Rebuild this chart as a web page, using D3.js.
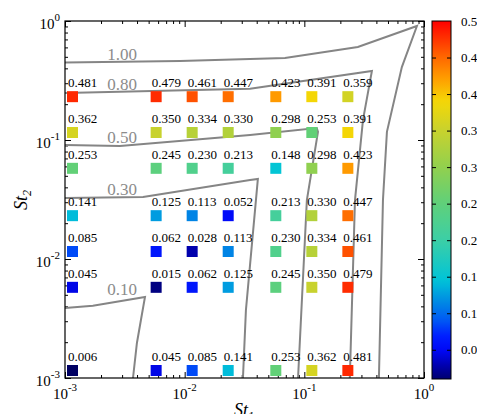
<!DOCTYPE html>
<html>
<head>
<meta charset="utf-8">
<script src="https://cdn.jsdelivr.net/npm/d3@7"></script>
<style>
body { margin: 0; background: #fff; }
svg { display: block; }
svg text { fill: #000; font-family: 'Liberation Serif', 'DejaVu Serif', serif; }
.cont { fill: none; stroke: #858585; stroke-width: 2; }
svg text.clabel { fill: #8c8c8c; font-size: 17px; }
.val { font-size: 13px; }
.axis path { display: none; }
.axis line { stroke: #000; }
.ticklabel { font-size: 15px; }
</style>
</head>
<body>
<svg id="chart" width="477" height="414"></svg>
<script>
// grid of St1 / St2 values, matrix rows go with st2
const st1 = [0.001, 0.005, 0.01, 0.02, 0.05, 0.1, 0.2];
const st2 = [0.2, 0.1, 0.05, 0.02, 0.01, 0.005, 0.001];
const eff = [
  [0.481, 0.479, 0.461, 0.447, 0.423, 0.391, 0.359],
  [0.362, 0.350, 0.334, 0.330, 0.298, 0.253, 0.391],
  [0.253, 0.245, 0.230, 0.213, 0.148, 0.298, 0.423],
  [0.141, 0.125, 0.113, 0.052, 0.213, 0.330, 0.447],
  [0.085, 0.062, 0.028, 0.113, 0.230, 0.334, 0.461],
  [0.045, 0.015, 0.062, 0.125, 0.245, 0.350, 0.479],
  [0.006, 0.045, 0.085, 0.141, 0.253, 0.362, 0.481]
];

// contour lines, [St1, St2]
const contourLevels = ['1.00', '0.80', '0.50', '0.30', '0.10'];
const contourLines = [
  [[0.001, 0.448], [0.00914, 0.461], [0.0689, 0.489], [0.28, 0.605], [0.873, 0.908], [0.653, 0.41], [0.49, 0.117], [0.454, 0.0313], [0.42, 0.001]],
  [[0.001, 0.248], [0.0352, 0.269], [0.367, 0.38], [0.309, 0.147], [0.265, 0.0313], [0.24, 0.001]],
  [[0.001, 0.0908], [0.00288, 0.0891], [0.0352, 0.110], [0.127, 0.126], [0.130, 0.117], [0.105, 0.0313], [0.0886, 0.001]],
  [[0.001, 0.0326], [0.00449, 0.0332], [0.0352, 0.0461], [0.0409, 0.0471], [0.0325, 0.00372], [0.0307, 0.001]],
  [[0.001, 0.00387], [0.00171, 0.00405], [0.00466, 0.0048], [0.00431, 0.00307], [0.00399, 0.00197], [0.0037, 0.001]]
];
const contourLabelPos = [[0.003, 0.47], [0.003, 0.263], [0.003, 0.0944], [0.003, 0.0345], [0.003, 0.00497]];

const decades = [0.001, 0.01, 0.1, 1];
const decadeExp = ['-3', '-2', '-1', '0'];
const cbarTicks = [0.5, 0.45, 0.4, 0.35, 0.3, 0.25, 0.2, 0.15, 0.1, 0.05];

const colorDomain = [0.01, 0.03, 0.05, 0.07, 0.09, 0.115, 0.145, 0.2, 0.25, 0.3, 0.35, 0.39, 0.42, 0.45, 0.5];
const colorRange = ['#000070', '#0000b4', '#0008f8', '#0020ff', '#0058f4', '#0088e4', '#00c4d8', '#3ccfa6', '#5fd07a', '#92d04e', '#c8d22e', '#f4d806', '#ffa000', '#ff6800', '#ff0000'];

const svg = d3.select('#chart');
const x = d3.scaleLog().domain([0.001, 1]).range([65, 424]);
const y = d3.scaleLog().domain([0.001, 1]).range([378, 21]);
const color = d3.scaleLinear().domain(colorDomain).range(colorRange);
const cy = d3.scaleLinear().domain([0.01, 0.5]).range([379, 21]);

// ticks (inside, on all four sides)
const isMajor = (v) => Math.abs(Math.log10(v) - Math.round(Math.log10(v))) < 1e-6;
const minors = x.ticks().filter((v) => !isMajor(v));

function ticks(axisFn, scale, tx, ty) {
  svg.append('g').attr('class', 'axis').attr('transform', `translate(${tx},${ty})`)
    .call(axisFn(scale).tickValues(minors).tickSize(-3).tickFormat(''));
  svg.append('g').attr('class', 'axis').attr('transform', `translate(${tx},${ty})`)
    .call(axisFn(scale).tickValues(decades).tickSize(-6).tickFormat(''));
}
ticks(d3.axisBottom, x, 0, 378);
ticks(d3.axisTop, x, 0, 21);
ticks(d3.axisLeft, y, 65, 0);
ticks(d3.axisRight, y, 424, 0);

// contours
const line = d3.line().x((d) => x(d[0])).y((d) => y(d[1]));
svg.append('g').selectAll('path').data(contourLines).enter()
  .append('path').attr('class', 'cont').attr('d', line);

svg.append('g').selectAll('text').data(contourLabelPos).enter()
  .append('text').attr('class', 'clabel')
  .attr('x', (d) => x(d[0])).attr('y', (d) => y(d[1]))
  .attr('text-anchor', 'middle')
  .text((d, i) => contourLevels[i]);

// squares + values
const cells = [];
eff.forEach((row, i) => row.forEach((v, j) => cells.push({ a: st1[j], b: st2[i], v: v })));

const cell = svg.append('g').selectAll('g').data(cells).enter().append('g');
cell.append('rect')
  .attr('x', (d) => x(d.a) + 2)
  .attr('y', (d) => y(d.b) - 13)
  .attr('width', 11).attr('height', 11)
  .attr('fill', (d) => color(d.v));
cell.append('text').attr('class', 'val')
  .attr('x', (d) => x(d.a) + 3)
  .attr('y', (d) => y(d.b) - 17)
  .text((d) => d.v.toFixed(3));

// frame
svg.append('rect').attr('x', 65).attr('y', 21).attr('width', 424 - 65).attr('height', 378 - 21)
  .attr('fill', 'none').attr('stroke', '#000').attr('stroke-width', 1.2);

// tick labels 10^n
const xl = svg.append('g').selectAll('text').data(decades).enter().append('text')
  .attr('class', 'ticklabel').attr('x', (d) => x(d)).attr('y', 399).attr('text-anchor', 'middle');
xl.append('tspan').text('10');
xl.append('tspan').attr('dy', -8).attr('font-size', 11).text((d, i) => decadeExp[i]);

const yl = svg.append('g').selectAll('text').data(decades).enter().append('text')
  .attr('class', 'ticklabel').attr('x', 60).attr('y', (d) => y(d) + 8).attr('text-anchor', 'end');
yl.append('tspan').text('10');
yl.append('tspan').attr('dy', -8).attr('font-size', 11).text((d, i) => decadeExp[i]);

// axis titles
const t1 = svg.append('text').attr('x', 244).attr('y', 416).attr('text-anchor', 'middle')
  .attr('font-size', 18).attr('font-style', 'italic');
t1.append('tspan').text('St');
t1.append('tspan').attr('dy', 4).attr('font-size', 12).text('1');

const t2 = svg.append('text').attr('transform', 'translate(27,200) rotate(-90)')
  .attr('text-anchor', 'middle').attr('font-size', 18).attr('font-style', 'italic');
t2.append('tspan').text('St');
t2.append('tspan').attr('dy', 4).attr('font-size', 12).text('2');

// colorbar
const grad = svg.append('defs').append('linearGradient').attr('id', 'cb')
  .attr('x1', 0).attr('y1', 1).attr('x2', 0).attr('y2', 0);
d3.range(0, 1.0001, 0.02).forEach((t) => {
  const v = 0.01 + t * 0.49;
  grad.append('stop').attr('offset', t).attr('stop-color', color(v));
});
svg.append('rect').attr('x', 432).attr('y', 21).attr('width', 19).attr('height', 358)
  .attr('fill', 'url(#cb)').attr('stroke', '#000').attr('stroke-width', 1);

svg.append('g').attr('class', 'axis').attr('transform', 'translate(432,0)')
  .call(d3.axisRight(cy).tickValues(cbarTicks.slice(1)).tickSize(4).tickFormat(''));
svg.append('g').attr('class', 'axis').attr('transform', 'translate(451,0)')
  .call(d3.axisLeft(cy).tickValues(cbarTicks.slice(1)).tickSize(4).tickFormat(''));
const cbl = svg.append('g').attr('class', 'axis').attr('transform', 'translate(451,0)')
  .call(d3.axisRight(cy).tickValues(cbarTicks).tickSize(0).tickPadding(10).tickFormat(d3.format('')));
cbl.selectAll('text').attr('font-size', 13).attr('fill', '#000');
</script>
</body>
</html>
